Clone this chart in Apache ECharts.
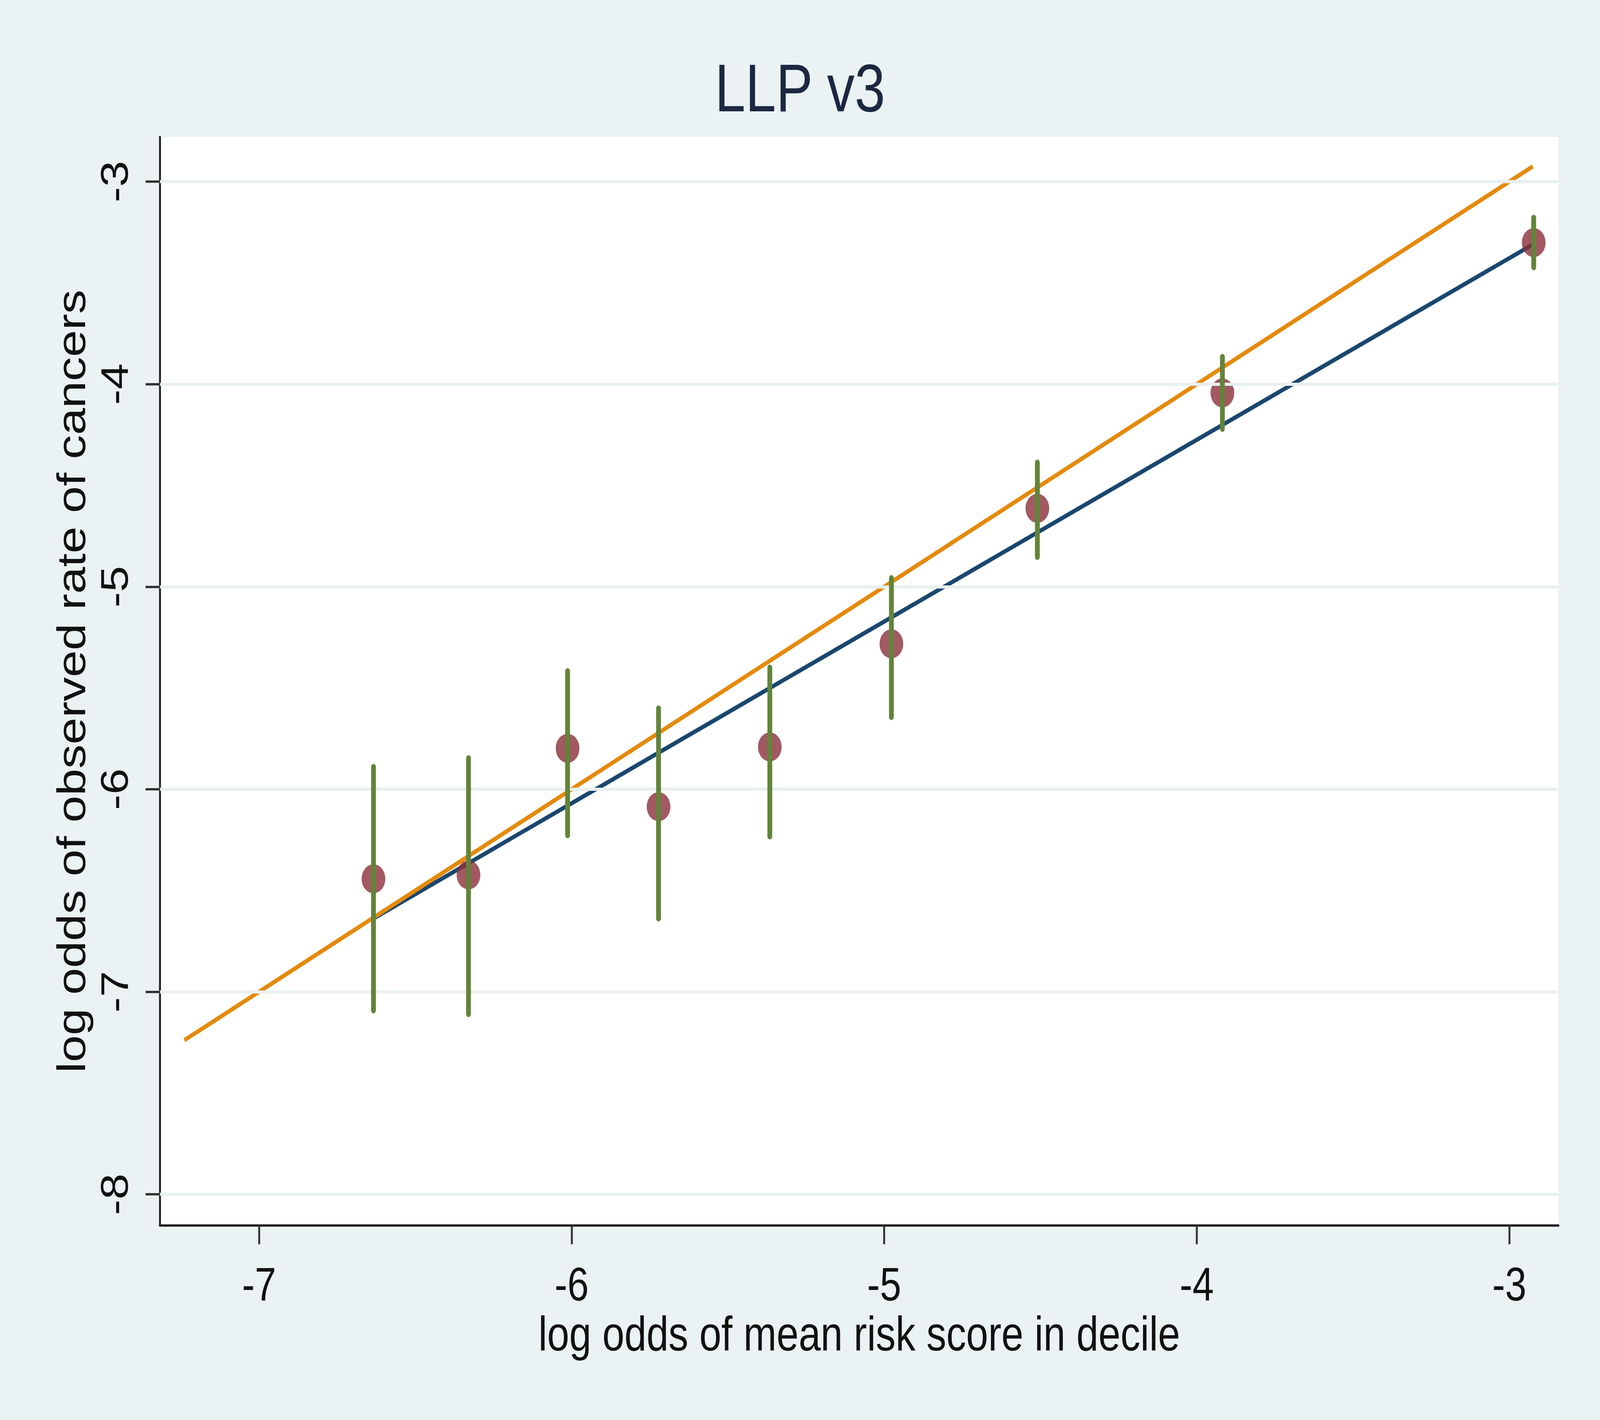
<!DOCTYPE html>
<html>
<head>
<meta charset="utf-8">
<script src="https://cdn.jsdelivr.net/npm/echarts@6/dist/echarts.min.js"></script>
<style>
  html, body { margin: 0; padding: 0; background: #eaf2f3; overflow: hidden; }
  #chart { width: 5000px; height: 3636px; transform-origin: 0 0; }
</style>
</head>
<body>
<div id="chart"></div>
<script>
// deciles: log odds of mean risk score (x) vs log odds of observed rate (y)
const decileX = [-6.634, -6.330, -6.013, -5.722, -5.366, -4.977, -4.510, -3.918, -2.922];
const observedY = [-6.442, -6.423, -5.798, -6.086, -5.791, -5.282, -4.613, -4.043, -3.301];
const ciLow = [-7.092, -7.110, -6.227, -6.638, -6.233, -5.644, -4.853, -4.221, -3.423];
const ciHigh = [-5.890, -5.847, -5.417, -5.601, -5.399, -4.957, -4.387, -3.865, -3.178];

// fitted line and the line of equality, end points
const fitX = [-6.634, -2.928];
const fitY = [-6.638, -3.313];
const equalX = [-7.239, -2.925];
const equalY = [-7.239, -2.925];

const xTicks = [-7, -6, -5, -4, -3];
const yTicks = [-8, -7, -6, -5, -4, -3];

// the chart is laid out for 5000x3636; fit it to whatever window we get
const chartDom = document.getElementById('chart');
const sx = window.innerWidth / 5000;
const sy = window.innerHeight / 3636;
chartDom.style.transform = 'scale(' + sx + ',' + sy + ')';

const myChart = echarts.init(chartDom, null, { renderer: 'svg' });

const font = 'Liberation Sans, Arial, sans-serif';

let option = {
  backgroundColor: '#eaf2f3',
  animation: false,
  title: {
    text: 'LLP v3',
    left: 'center',
    top: 134,
    textStyle: { fontFamily: font, fontSize: 172, fontWeight: 'normal', color: '#1c2841' }
  },
  grid: {
    left: 500, right: 130, top: 351, bottom: 498,
    show: true, backgroundColor: '#ffffff', borderWidth: 0
  },
  xAxis: {
    type: 'value',
    min: -7.317, max: -2.843,
    name: 'log odds of mean risk score in decile',
    nameLocation: 'middle',
    nameGap: 212,
    nameTextStyle: { fontFamily: font, fontSize: 124, color: '#111' },
    axisLine: { onZero: false, lineStyle: { color: '#222', width: 6 } },
    axisTick: { show: true, customValues: xTicks, length: 48, lineStyle: { color: '#333', width: 6 } },
    axisLabel: {
      customValues: xTicks, margin: 90,
      fontFamily: font, fontSize: 120, color: '#111',
      formatter: v => String(v)
    },
    splitLine: { show: false }
  },
  yAxis: {
    type: 'value',
    min: -8.154, max: -2.78,
    name: 'log odds of observed rate of cancers',
    nameLocation: 'middle',
    nameRotate: 90,
    nameGap: 215,
    nameTextStyle: { fontFamily: font, fontSize: 124, color: '#111' },
    axisLine: { onZero: false, lineStyle: { color: '#222', width: 6 } },
    axisTick: { show: true, customValues: yTicks, length: 45, lineStyle: { color: '#333', width: 6 } },
    axisLabel: {
      customValues: yTicks, margin: 82, rotate: 90,
      fontFamily: font, fontSize: 120, color: '#111',
      formatter: v => String(v)
    },
    splitLine: { show: false }
  },
  series: [
    {
      // horizontal grid lines at the y ticks
      type: 'line',
      data: [],
      silent: true,
      markLine: {
        silent: true,
        symbol: 'none',
        label: { show: false },
        lineStyle: { color: '#e8f0f1', width: 8, type: 'solid' },
        data: yTicks.map(v => ({ yAxis: v }))
      },
      z: 1
    },
    {
      type: 'line',
      data: fitX.map((x, i) => [x, fitY[i]]),
      showSymbol: false,
      lineStyle: { color: '#1a476f', width: 11 },
      z: 2
    },
    {
      type: 'line',
      data: equalX.map((x, i) => [x, equalY[i]]),
      showSymbol: false,
      lineStyle: { color: '#e58a0c', width: 11 },
      z: 3
    },
    {
      type: 'scatter',
      data: decileX.map((x, i) => [x, observedY[i]]),
      symbol: 'circle',
      symbolSize: 74,
      itemStyle: { color: '#8b2f3a' },
      z: 4
    },
    {
      type: 'custom',
      data: decileX.map((x, i) => [x, ciLow[i], ciHigh[i]]),
      encode: { x: 0, y: [1, 2] },
      renderItem: (params, api) => {
        const p1 = api.coord([api.value(0), api.value(1)]);
        const p2 = api.coord([api.value(0), api.value(2)]);
        return {
          type: 'line',
          shape: { x1: p1[0], y1: p1[1], x2: p2[0], y2: p2[1] },
          style: { stroke: '#62843a', lineWidth: 15, lineCap: 'round' }
        };
      },
      z: 5
    }
  ]
};

option && myChart.setOption(option);
</script>
</body>
</html>
